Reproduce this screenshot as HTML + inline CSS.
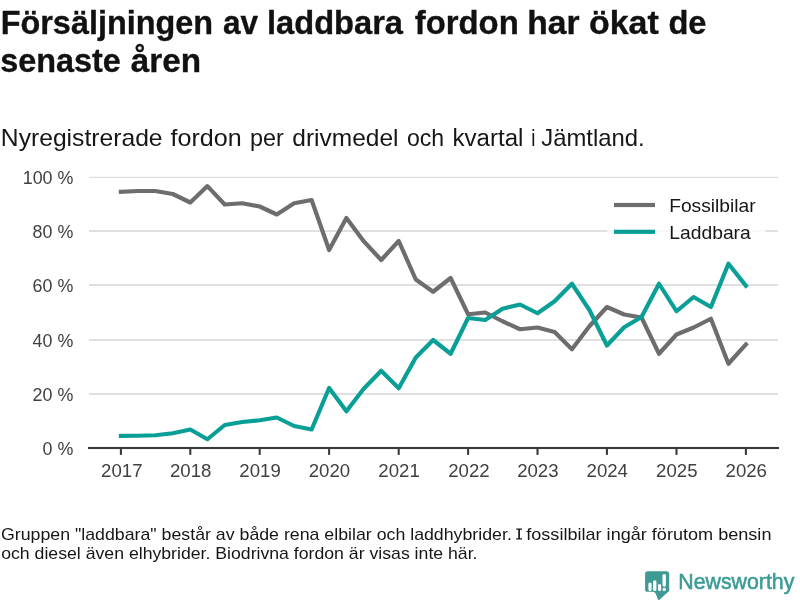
<!DOCTYPE html>
<html><head><meta charset="utf-8"><title>Chart</title>
<style>
html,body{margin:0;padding:0;background:#fff;}
body{width:800px;height:600px;overflow:hidden;}
svg{display:block;font-family:"Liberation Sans",sans-serif;}
</style></head><body>
<svg width="800" height="600" viewBox="0 0 800 600">
<rect width="800" height="600" fill="#fff"/>
<rect x="89" width="689" y="230" height="2" fill="#e0e0e0"/><rect x="89" width="689" y="284" height="2" fill="#e0e0e0"/><rect x="89" width="689" y="339" height="2" fill="#e0e0e0"/><rect x="89" width="689" y="393" height="2" fill="#e0e0e0"/><rect x="89" width="689" y="176.75" height="1.25" fill="#dedede"/>
<polyline points="120.90,191.75 138.01,191.00 155.32,191.00 172.81,194.00 190.30,202.50 207.42,186.10 224.72,204.50 242.21,203.25 259.70,206.50 276.82,214.50 294.12,203.25 311.61,200.00 329.11,250.00 346.41,218.00 363.71,241.25 381.21,260.00 398.70,241.00 415.81,279.50 433.11,291.75 450.61,278.00 468.10,314.25 485.21,312.50 502.52,321.25 520.01,329.25 537.50,327.50 554.62,332.00 571.92,349.25 589.41,326.25 606.91,307.00 624.21,314.50 641.51,317.50 659.00,353.75 676.50,334.50 693.61,327.50 710.91,318.75 728.41,363.75 745.90,344.50" fill="none" stroke="#6d6d70" stroke-width="4.17" stroke-linejoin="round" stroke-linecap="square"/>
<polyline points="120.90,435.90 138.01,435.75 155.32,435.25 172.81,433.25 190.30,429.50 207.42,439.25 224.72,425.00 242.21,422.00 259.70,420.25 276.82,417.50 294.12,426.00 311.61,429.50 329.11,388.00 346.41,411.25 363.71,388.75 381.21,370.75 398.70,388.25 415.81,357.50 433.11,340.00 450.61,353.75 468.10,318.00 485.21,320.00 502.52,308.75 520.01,304.50 537.50,313.25 554.62,301.25 571.92,283.75 589.41,310.00 606.91,345.50 624.21,327.25 641.51,317.00 659.00,283.75 676.50,311.25 693.61,297.00 710.91,307.00 728.41,263.75 745.90,285.75" fill="none" stroke="#0a9f96" stroke-width="4.17" stroke-linejoin="round" stroke-linecap="square"/>
<rect x="88" width="691" y="446.95" height="2.1" fill="#3a3a3a"/>
<rect x="119.86" width="2.08" y="448" height="6.9" fill="#3a3a3a"/><rect x="189.26" width="2.08" y="448" height="6.9" fill="#3a3a3a"/><rect x="258.66" width="2.08" y="448" height="6.9" fill="#3a3a3a"/><rect x="328.07" width="2.08" y="448" height="6.9" fill="#3a3a3a"/><rect x="397.66" width="2.08" y="448" height="6.9" fill="#3a3a3a"/><rect x="467.06" width="2.08" y="448" height="6.9" fill="#3a3a3a"/><rect x="536.46" width="2.08" y="448" height="6.9" fill="#3a3a3a"/><rect x="605.87" width="2.08" y="448" height="6.9" fill="#3a3a3a"/><rect x="675.46" width="2.08" y="448" height="6.9" fill="#3a3a3a"/><rect x="744.86" width="2.08" y="448" height="6.9" fill="#3a3a3a"/>
<rect x="607" y="190" width="158.5" height="58" fill="#fff" fill-opacity="0.8"/>
<rect x="614" width="41" y="202.915" height="4.17" fill="#6d6d70"/>
<rect x="614" width="41" y="229.715" height="4.17" fill="#0a9f96"/>
<g transform="translate(645.1,571.2)">
<path d="M2.6,0 H21.5 Q24.1,0 24.1,2.6 V19.9 L13.3,29.4 L10.6,22.6 Q9.8,20.6 7.8,20.6 H2.6 Q0,20.6 0,18 V2.6 Q0,0 2.6,0 Z" fill="#3f9a96"/>
<rect x="3.3" y="11.2" width="3.2" height="8.5" rx="1.5" fill="#fff"/>
<rect x="8.0" y="9.0" width="3.3" height="10.7" rx="1.5" fill="#fff"/>
<rect x="12.9" y="12.9" width="3.1" height="6.8" rx="1.5" fill="#fff"/>
<rect x="17.4" y="2.7" width="3.4" height="12.8" rx="1.6" fill="#fff"/>
<rect x="17.4" y="16.6" width="3.4" height="3.1" rx="1.5" fill="#fff"/>
</g>
<g opacity="0.999">
<text transform="translate(0.71,33.5) scale(0.9965,1)" font-size="32.5" font-weight="bold" fill="#111111" stroke="#111111" stroke-width="0.35">Försäljningen</text>
<text transform="translate(223.00,33.5) scale(0.9702,1)" font-size="32.5" font-weight="bold" fill="#111111" stroke="#111111" stroke-width="0.35">av</text>
<text transform="translate(266.99,33.5) scale(1.0046,1)" font-size="32.5" font-weight="bold" fill="#111111" stroke="#111111" stroke-width="0.35">laddbara</text>
<text transform="translate(414.80,33.5) scale(1.0106,1)" font-size="32.5" font-weight="bold" fill="#111111" stroke="#111111" stroke-width="0.35">fordon</text>
<text transform="translate(527.33,33.5) scale(1.0342,1)" font-size="32.5" font-weight="bold" fill="#111111" stroke="#111111" stroke-width="0.35">har</text>
<text transform="translate(588.95,33.5) scale(1.0454,1)" font-size="32.5" font-weight="bold" fill="#111111" stroke="#111111" stroke-width="0.35">ökat</text>
<text transform="translate(668.40,33.5) scale(1.0041,1)" font-size="32.5" font-weight="bold" fill="#111111" stroke="#111111" stroke-width="0.35">de</text>
<text transform="translate(0.30,71.5) scale(0.9960,1)" font-size="32.5" font-weight="bold" fill="#111111" stroke="#111111" stroke-width="0.35">senaste</text>
<text transform="translate(130.80,71.5) scale(1.0240,1)" font-size="32.5" font-weight="bold" fill="#111111" stroke="#111111" stroke-width="0.35">åren</text>
<text transform="translate(0.85,145.6) scale(1.0542,1)" font-size="23.4" fill="#161616">Nyregistrerade</text>
<text transform="translate(170.60,145.6) scale(1.0717,1)" font-size="23.4" fill="#161616">fordon</text>
<text transform="translate(250.00,145.6) scale(0.9995,1)" font-size="23.4" fill="#161616">per</text>
<text transform="translate(292.30,145.6) scale(1.0474,1)" font-size="23.4" fill="#161616">drivmedel</text>
<text transform="translate(406.90,145.6) scale(0.9863,1)" font-size="23.4" fill="#161616">och</text>
<text transform="translate(452.47,145.6) scale(1.0308,1)" font-size="23.4" fill="#161616">kvartal</text>
<text transform="translate(531.20,145.6) scale(0.8000,1)" font-size="23.4" fill="#161616">i</text>
<text transform="translate(541.20,145.6) scale(1.0199,1)" font-size="23.4" fill="#161616">Jämtland.</text>
<text transform="translate(1.00,539.5) scale(1.1168,1)" font-size="15.9" fill="#161616">Gruppen &quot;laddbara&quot; består av både rena elbilar och laddhybrider.</text>
<text transform="translate(526.25,539.5) scale(1.1383,1)" font-size="15.9" fill="#161616">fossilbilar ingår förutom bensin</text>
<text transform="translate(1.20,558.5) scale(1.1125,1)" font-size="15.9" fill="#161616">och diesel även elhybrider. Biodrivna fordon är visas inte här.</text>
<text transform="translate(669.23,212.0) scale(1.0720,1)" font-size="17.9" fill="#161616">Fossilbilar</text>
<text transform="translate(669.22,238.8) scale(1.0783,1)" font-size="17.9" fill="#161616">Laddbara</text>
<text transform="translate(678.30,589) scale(1.0015,1)" font-size="21.3" fill="#3d9a96" stroke="#3d9a96" stroke-width="0.55">Newsworthy</text>
<text transform="translate(22.70,183.9) scale(1.0039,1)" font-size="17.8" fill="#404040">100 %</text>
<text transform="translate(32.62,237.9) scale(1.0039,1)" font-size="17.8" fill="#404040">80 %</text>
<text transform="translate(32.62,291.9) scale(1.0039,1)" font-size="17.8" fill="#404040">60 %</text>
<text transform="translate(32.62,346.9) scale(1.0039,1)" font-size="17.8" fill="#404040">40 %</text>
<text transform="translate(32.62,400.9) scale(1.0039,1)" font-size="17.8" fill="#404040">20 %</text>
<text transform="translate(42.55,454.9) scale(1.0039,1)" font-size="17.8" fill="#404040">0 %</text>
<text transform="translate(101.05,476.75) scale(1.0474,1)" font-size="17.8" fill="#404040">2017</text>
<text transform="translate(169.93,476.75) scale(1.0474,1)" font-size="17.8" fill="#404040">2018</text>
<text transform="translate(239.33,476.75) scale(1.0474,1)" font-size="17.8" fill="#404040">2019</text>
<text transform="translate(308.73,476.75) scale(1.0474,1)" font-size="17.8" fill="#404040">2020</text>
<text transform="translate(378.33,476.75) scale(1.0474,1)" font-size="17.8" fill="#404040">2021</text>
<text transform="translate(448.25,476.75) scale(1.0474,1)" font-size="17.8" fill="#404040">2022</text>
<text transform="translate(517.13,476.75) scale(1.0474,1)" font-size="17.8" fill="#404040">2023</text>
<text transform="translate(586.53,476.75) scale(1.0474,1)" font-size="17.8" fill="#404040">2024</text>
<text transform="translate(656.12,476.75) scale(1.0474,1)" font-size="17.8" fill="#404040">2025</text>
<text transform="translate(725.53,476.75) scale(1.0474,1)" font-size="17.8" fill="#404040">2026</text>
</g>
<path d="M516.2,528.5 h5.8 v1.3 h-2.05 v8.4 h2.05 v1.3 h-5.8 v-1.3 h2.05 v-8.4 h-2.05 Z" fill="#161616"/>
</svg>
</body></html>
